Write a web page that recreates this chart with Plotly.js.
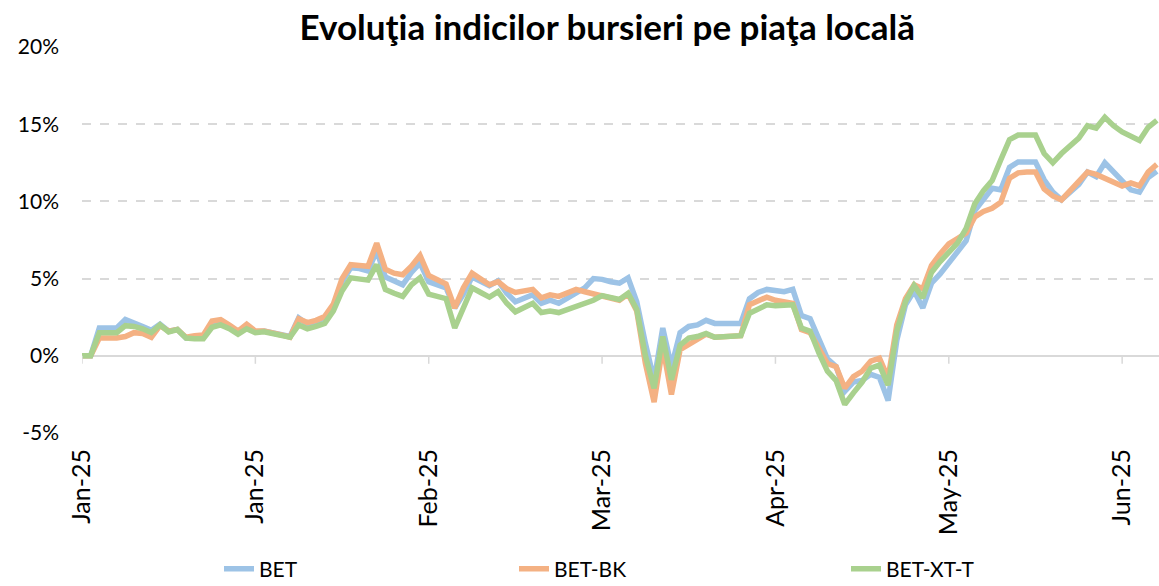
<!DOCTYPE html>
<html>
<head>
<meta charset="utf-8">
<script src="https://cdn.plot.ly/plotly-3.0.1.min.js"></script>
<style>
  html, body { margin: 0; padding: 0; background: #fff; }
  #chart { width: 1159px; height: 586px; }
</style>
</head>
<body>
<div id="chart"></div>
<script>
// ---- Data (percent change vs. start of year, weekday series from 2025-01-01) ----
const seriesNames = ["BET", "BET-BK", "BET-XT-T"];

const bet = [
  0, 0, 1.8, 1.8, 1.8, 2.35, 2.15, 1.9, 1.65, 2.05,
  1.6, 1.7, 1.15, 1.15, 1.2, 2.0, 2.15, 1.9, 1.55, 1.95,
  1.55, 1.6, 1.5, 1.4, 1.25, 2.45, 2.05, 2.2, 2.45, 3.2,
  4.8, 5.7, 5.65, 5.5, 6.8, 5.1, 4.85, 4.6, 5.4, 6.0,
  4.8, 4.6, 4.4, 3.1, 4.0, 5.1, 4.85, 4.55, 4.85, 4.05,
  3.5, 3.75, 3.95, 3.4, 3.6, 3.4, 3.7, 4.05, 4.4, 5.0,
  4.95, 4.8, 4.7, 5.05, 3.5, 0.8, -1.6, 1.8, -0.7, 1.5,
  1.9, 2.0, 2.3, 2.1, 2.1, 2.1, 2.1, 3.7, 4.1, 4.3,
  4.2, 4.15, 4.3, 2.6, 2.4, 1.2, -0.2, -0.7, -2.3, -1.7,
  -1.6, -1.2, -1.4, -2.9, 1.0, 3.3, 4.2, 3.1, 4.7, 5.3,
  6.0, 6.7, 7.45, 9.4, 10.2, 10.85, 10.75, 12.2, 12.55, 12.55,
  12.55, 11.4, 10.6, 10.1, 10.6, 11.1, 11.9, 11.6, 12.5, 11.9,
  11.3, 10.75, 10.6, 11.55, 11.95
];

const betBK = [
  0, 0, 1.15, 1.15, 1.15, 1.25, 1.5, 1.45, 1.2, 1.95,
  1.6, 1.7, 1.2, 1.3, 1.35, 2.25, 2.35, 2.0, 1.6, 2.05,
  1.6, 1.6, 1.5, 1.35, 1.2, 2.4, 2.15, 2.3, 2.55, 3.35,
  5.0, 5.9, 5.85, 5.8, 7.3, 5.6, 5.35, 5.25, 5.8, 6.5,
  5.2, 4.95, 4.65, 3.1, 4.4, 5.35, 4.95, 4.6, 4.8, 4.35,
  4.1, 4.2, 4.3, 3.75, 3.95, 3.85, 4.05, 4.3, 4.15, 4.0,
  3.85, 3.75, 3.6, 4.0, 2.9, -0.5, -3.0, 0.6, -2.5, 0.4,
  0.75, 1.05, 1.4, 1.2, 1.25, 1.25, 1.3, 3.3, 3.6, 3.8,
  3.6, 3.5, 3.4, 1.7, 1.5, 0.5, -0.5, -0.7, -2.1, -1.35,
  -1.0, -0.35, -0.15, -1.45, 2.0, 3.7, 4.6, 4.35, 5.85, 6.6,
  7.25, 7.6, 7.95, 9.0, 9.35, 9.55, 9.95, 11.5, 11.85, 11.9,
  11.9, 10.8, 10.35, 10.1, 10.7, 11.3, 11.9, 11.75, 11.5, 11.25,
  11.0, 11.2, 11.0, 11.9, 12.4
];

const betXTT = [
  0, 0, 1.5, 1.5, 1.5, 1.95, 1.9, 1.75, 1.5, 2.0,
  1.55, 1.7, 1.15, 1.1, 1.1, 1.85, 2.0, 1.75, 1.4, 1.75,
  1.5, 1.55, 1.45, 1.35, 1.2, 2.0, 1.75, 1.9, 2.1, 2.9,
  4.2, 5.05, 4.95, 4.9, 5.9, 4.3, 4.05, 3.85, 4.6, 5.05,
  4.0, 3.85, 3.7, 1.8, 3.1, 4.4, 4.1, 3.8, 4.15, 3.4,
  2.85, 3.1, 3.4, 2.8, 2.9, 2.8, 3.0, 3.25, 3.45, 3.6,
  3.9, 3.8, 3.65, 4.05, 3.0, 0.0, -2.1, 1.25, -1.55, 0.7,
  1.15, 1.25, 1.45, 1.2, 1.25, 1.25, 1.3, 2.75, 3.0, 3.3,
  3.25, 3.25, 3.3, 1.8, 1.6, 0.2, -1.0, -1.6, -3.15, -2.4,
  -1.7, -0.8, -0.6, -1.9, 1.6, 3.5, 4.55, 3.75, 5.4, 6.1,
  6.7, 7.3, 8.25, 9.85, 10.7, 11.35, 12.7, 14.0, 14.3, 14.3,
  14.3, 13.1, 12.5, 13.1, 13.6, 14.1, 14.9, 14.75, 15.45, 14.9,
  14.5, 14.2, 13.95, 14.8, 15.25
];

// category axis: tick every 20 weekdays, labelled mmm-yy
const tickIndex = [0, 20, 40, 60, 80, 100, 120];
const tickLabels = ["Jan-25", "Jan-25", "Feb-25", "Mar-25", "Apr-25", "May-25", "Jun-25"];
const yTicks = [-5, 0, 5, 10, 15, 20];
const yTickLabels = ["-5%", "0%", "5%", "10%", "15%", "20%"];

const colors = ["#9DC3E6", "#F4B183", "#A9D18E"];

// weekday dates used as category keys
function weekdays(startISO, n) {
  const out = [];
  const d = new Date(startISO + "T00:00:00Z");
  while (out.length < n) {
    const wd = d.getUTCDay();
    if (wd !== 0 && wd !== 6) out.push(d.toISOString().slice(0, 10));
    d.setUTCDate(d.getUTCDate() + 1);
  }
  return out;
}
const dates = weekdays("2025-01-01", bet.length);

const FONT = "Lato, 'Liberation Sans', Arial, sans-serif";
const values = [bet, betBK, betXTT];
const legendIds = ["legend", "legend2", "legend3"];

const traces = values.map((v, k) => ({
  type: "scatter",
  mode: "lines",
  name: seriesNames[k],
  x: dates,
  y: v,
  line: { color: colors[k], width: 5.5, shape: "linear" },
  legend: legendIds[k],
  hovertemplate: "%{x}<br>%{y:.2f}%<extra>" + seriesNames[k] + "</extra>"
}));

// tick marks hanging below the 0% line at each labelled category
const tickShapes = tickIndex.map(i => ({
  type: "line", xref: "x", yref: "y",
  x0: dates[i], x1: dates[i],
  ysizemode: "pixel", yanchor: 0, y0: 0, y1: -8,
  line: { color: "#D9D9D9", width: 1.5 }
}));

const legendBase = {
  orientation: "h", yanchor: "middle", xanchor: "left",
  xref: "container", yref: "container", y: 1 - 569 / 586,
  font: { family: FONT, size: 21, color: "#000" },
  bgcolor: "rgba(0,0,0,0)", borderwidth: 0, itemwidth: 30
};

const layout = {
  width: 1159, height: 586,
  margin: { l: 82, r: 0, t: 47, b: 153, autoexpand: false },
  paper_bgcolor: "#fff", plot_bgcolor: "#fff",
  title: {
    text: "Evoluţia indicilor bursieri pe piaţa locală",
    font: { family: FONT, size: 35, weight: 700, color: "#000" },
    x: 0.524, xref: "container", xanchor: "center",
    y: 0.953, yref: "container", yanchor: "middle"
  },
  xaxis: {
    type: "category",
    range: [0, 124.25],
    tickmode: "array",
    tickvals: tickIndex.map(i => dates[i]),
    ticktext: tickLabels,
    tickangle: -90,
    tickfont: { family: FONT, size: 25, color: "#000" },
    ticks: "", showline: false, showgrid: false, zeroline: false,
    ticklabelstandoff: 10, automargin: false
  },
  yaxis: {
    range: [-5, 20],
    tickmode: "array",
    tickvals: yTicks,
    ticktext: yTickLabels,
    tickfont: { family: FONT, size: 21, color: "#000" },
    showgrid: true, gridcolor: "#D9D9D9", gridwidth: 1.5, griddash: "dash",
    zeroline: true, zerolinecolor: "#D9D9D9", zerolinewidth: 2,
    showline: false, ticks: "",
    ticklabelstandoff: 22, automargin: false
  },
  showlegend: true,
  legend:  Object.assign({}, legendBase, { x: 219 / 1159 }),
  legend2: Object.assign({}, legendBase, { x: 514 / 1159 }),
  legend3: Object.assign({}, legendBase, { x: 846 / 1159 }),
  shapes: tickShapes,
  hovermode: "closest"
};

Plotly.newPlot("chart", traces, layout, { displayModeBar: false });
</script>
</body>
</html>
